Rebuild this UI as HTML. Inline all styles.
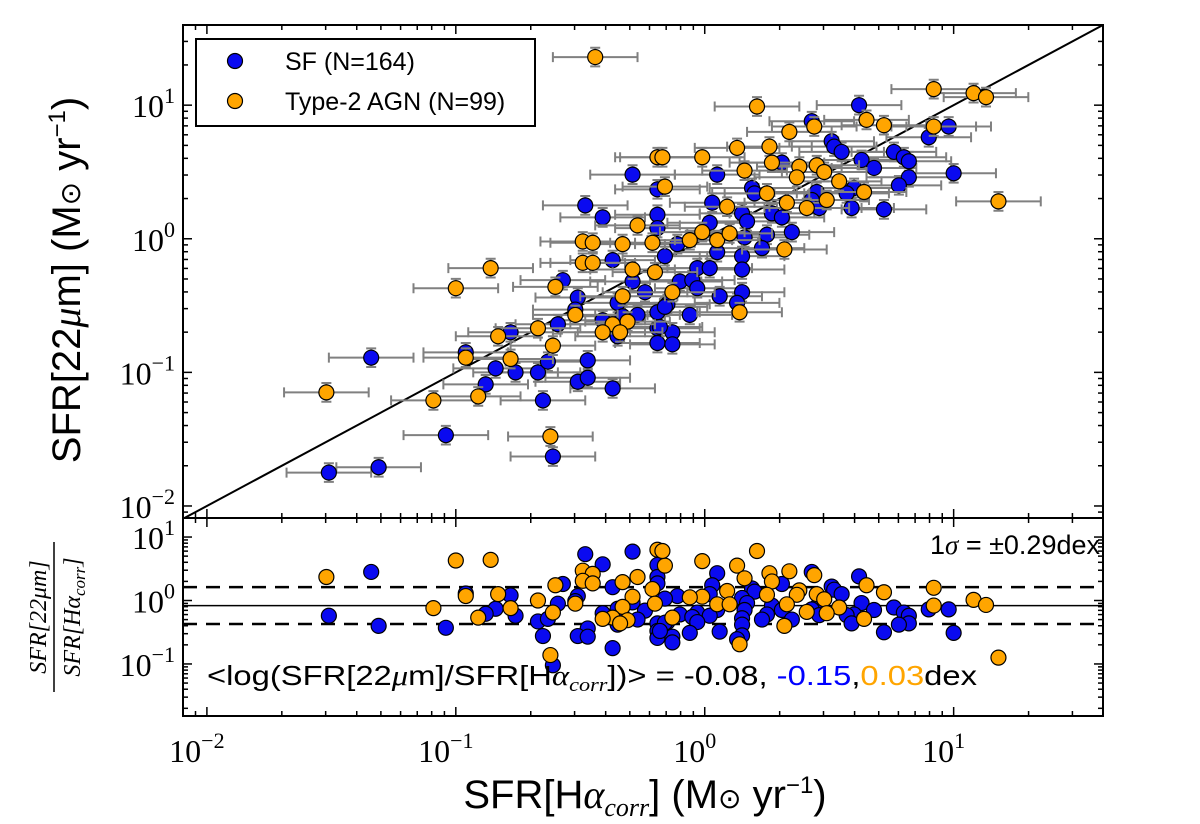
<!DOCTYPE html>
<html><head><meta charset="utf-8"><style>
html,body{margin:0;padding:0;background:#fff;}
svg{display:block;}
</style></head><body>
<svg id="chart" width="1200" height="824" viewBox="0 0 1200 824" xmlns="http://www.w3.org/2000/svg" font-family="Liberation Sans, sans-serif">
<g id="main"></g>
<g id="resid"></g>
<g id="labels">
<text transform="translate(80,280) rotate(-90)" text-anchor="middle" font-size="40">SFR[22<tspan font-family="Liberation Serif" font-style="italic">μ</tspan>m]  (M<tspan font-size="28">⊙</tspan> yr<tspan font-size="24" dy="-15">−1</tspan><tspan dy="15">)</tspan></text>
<text x="645" y="808" text-anchor="middle" font-size="40">SFR[H<tspan font-family="Liberation Serif" font-style="italic">α</tspan><tspan font-family="Liberation Serif" font-style="italic" font-size="26" dy="8">corr</tspan><tspan dy="-8">]  (M</tspan><tspan font-size="28">⊙</tspan> yr<tspan font-size="24" dy="-15">−1</tspan><tspan dy="15">)</tspan></text>
<g transform="translate(0,617) rotate(-90)" font-family="Liberation Serif" font-style="italic" font-size="24" text-anchor="middle">
<text x="0" y="46">SFR[22μm]</text>
<line x1="-75" y1="54" x2="75" y2="54" stroke="#000" stroke-width="1.5"/>
<text x="0" y="80">SFR[Hα<tspan font-size="17" dy="5">corr</tspan><tspan dy="-5">]</tspan></text>
</g>
</g>
</svg>
<script>
// ---------- data (log10 SFR, Msun/yr) ----------
const sfLogX = [-0.29,-0.19,-0.48,-0.41,-0.19,-0.19,-0.37,-0.57,-0.29,-0.24,-0.51,-0.52,-0.35,-0.33,-0.27,-0.41,-0.19,-0.15,-0.19,-0.13,-0.19,-0.13,-0.35,-0.59,-0.78,-0.96,-1.34,-0.84,-0.76,-0.88,-0.67,-0.63,-0.47,-0.51,-0.47,-0.37,-0.65,-1.04,-0.61,-1.51,-1.31,
 0.62,0.43,0.98,0.90,0.51,0.52,0.55,0.76,0.80,0.82,0.63,0.68,1.00,0.82,0.78,0.05,0.31,0.60,0.57,0.45,0.43,0.46,0.59,0.72,0.19,0.20,0.03,0.15,0.27,0.31,0.02,0.17,0.35,0.25,0.16,-0.11,0.05,0.15,0.23,-0.16,-0.03,0.02,0.15,-0.10,-0.05,-0.03,0.06,0.15,0.13,-0.16,-0.06,-0.18];
const sfLogY = [0.48,0.37,0.25,0.16,0.18,0.08,-0.16,-0.31,-0.32,-0.40,-0.44,-0.53,-0.48,-0.58,-0.57,-0.61,-0.55,-0.49,-0.67,-0.70,-0.78,-0.79,-0.73,-0.64,-0.70,-0.85,-0.89,-0.97,-1.00,-1.09,-1.00,-0.92,-0.91,-1.07,-1.04,-1.12,-1.21,-1.47,-1.63,-1.75,-1.71,
 1.00,0.88,0.84,0.76,0.73,0.69,0.65,0.65,0.61,0.58,0.59,0.53,0.49,0.46,0.40,0.48,0.57,0.38,0.34,0.35,0.29,0.23,0.23,0.22,0.38,0.34,0.27,0.19,0.19,0.16,0.12,0.13,0.05,0.03,0.01,-0.04,-0.10,-0.13,-0.07,-0.13,-0.22,-0.22,-0.23,-0.32,-0.31,-0.37,-0.43,-0.40,-0.48,-0.51,-0.57,-0.66];
const agnLogX = [-0.19,-0.16,-0.27,-0.49,-0.45,-0.33,-0.21,-0.49,-0.45,-0.86,-1.00,-0.29,-0.20,-0.60,-0.33,-0.13,-0.52,-0.37,-0.31,-0.41,-0.34,-0.67,-0.83,-0.61,-0.96,-0.78,-1.52,-1.09,-0.91,-0.62,
 -0.44,0.21,0.92,1.08,1.13,0.65,0.72,0.34,0.44,0.92,0.13,0.26,-0.01,-0.17,0.16,0.27,0.38,0.45,0.48,0.37,0.54,0.64,0.49,0.41,0.25,0.33,0.09,1.18,-0.01,-0.06,0.05,0.10,0.32,0.14];
const agnLogY = [0.61,0.39,0.10,-0.02,-0.03,-0.04,-0.03,-0.18,-0.18,-0.22,-0.37,-0.23,-0.25,-0.36,-0.43,-0.40,-0.57,-0.64,-0.62,-0.70,-0.70,-0.67,-0.73,-0.80,-0.89,-0.90,-1.15,-1.21,-1.18,-1.48,
 1.36,0.99,1.12,1.09,1.06,0.89,0.85,0.80,0.84,0.84,0.68,0.69,0.61,0.61,0.51,0.57,0.54,0.55,0.50,0.46,0.43,0.35,0.29,0.23,0.34,0.27,0.24,0.28,0.05,-0.01,-0.01,0.04,-0.08,-0.55];
const xErrDex = 0.17, yErrDex = 0.07;
const meanLog = -0.08, sigmaDex = 0.29;
const xTickExps = [-2,-1,0,1];
const yTickExps = [-2,-1,0,1];
const rTickExps = [-1,0,1];

// ---------- axes ----------
const L=183, R=1103, T=25, B=518, RB=716;
const xMin=-2.096, xMax=1.6, yMin=-2.09, yMax=1.6, rMin=-1.82, rMax=1.3;
const X = v => L + (v - xMin)/(xMax - xMin)*(R-L);
const Y = v => B - (v - yMin)/(yMax - yMin)*(B-T);
const RY = v => RB - (v - rMin)/(rMax - rMin)*(RB-B);
const NS='http://www.w3.org/2000/svg';
function mk(tag, attrs, parent){const e=document.createElementNS(NS,tag);for(const k in attrs)e.setAttribute(k,attrs[k]);parent.appendChild(e);return e;}
const main=document.getElementById('main'), resid=document.getElementById('resid');

const defs=mk('defs',{},document.getElementById('chart'));
const c1=mk('clipPath',{id:'c1'},defs); mk('rect',{x:L,y:T,width:R-L,height:B-T},c1);
const c2=mk('clipPath',{id:'c2'},defs); mk('rect',{x:L,y:B,width:R-L,height:RB-B},c2);

const one=mk('line',{x1:X(xMin),y1:Y(xMin),x2:X(xMax),y2:Y(xMax),stroke:'#000','stroke-width':2,'clip-path':'url(#c1)'},main);



const rl=mk('line',{x1:L,y1:RY(meanLog),x2:R,y2:RY(meanLog),stroke:'#000','stroke-width':1.5},resid);


[meanLog+sigmaDex, meanLog-sigmaDex].forEach(v=>{
  const d=mk('line',{x1:L,y1:RY(v),x2:R,y2:RY(v),stroke:'#000','stroke-width':2.5,'stroke-dasharray':'14,9'},resid);
  
  
});

function drawSeries(lx, ly, color, name){
  const gE=mk('g',{'clip-path':'url(#c1)'},main);
  
  
  for(let i=0;i<lx.length;i++){
    const cx=X(lx[i]), cy=Y(ly[i]);
    const x1=X(lx[i]-xErrDex), x2=X(lx[i]+xErrDex), y1=Y(ly[i]+yErrDex), y2=Y(ly[i]-yErrDex);
    mk('path',{d:`M${x1},${cy}H${x2}M${x1},${cy-5}V${cy+5}M${x2},${cy-5}V${cy+5}M${cx},${y1}V${y2}M${cx-5},${y1}H${cx+5}M${cx-5},${y2}H${cx+5}`,stroke:'#808080','stroke-width':2,fill:'none'},gE);
  }
  const gP=mk('g',{'clip-path':'url(#c1)'},main);
  
  
  const gR=mk('g',{'clip-path':'url(#c2)'},resid);
  
  
  for(let i=0;i<lx.length;i++){
    const p=mk('circle',{cx:X(lx[i]),cy:Y(ly[i]),r:7.5,fill:color,stroke:'#000','stroke-width':1.2},gP);
    
    
    const q=mk('circle',{cx:X(lx[i]),cy:RY(ly[i]-lx[i]),r:7.5,fill:color,stroke:'#000','stroke-width':1.2},gR);
    
    
  }
}
drawSeries(sfLogX, sfLogY, '#0a0af0', 'sf');
drawSeries(agnLogX, agnLogY, '#ffa500', 'agn');

[[T,B],[B,RB]].forEach(([t,b])=>{
  const f=mk('rect',{x:L,y:t,width:R-L,height:b-t,fill:'none',stroke:'#000','stroke-width':2},main);
  
  
});

const tg=mk('g',{stroke:'#000','stroke-width':1.5},main);


function logTicks(minV,maxV,fn){for(let e=Math.floor(minV);e<=Math.ceil(maxV);e++){for(let m=1;m<10;m++){const v=e+Math.log10(m);if(v>=minV&&v<=maxV)fn(v,m===1);}}}
logTicks(xMin,xMax,(v,maj)=>{const x=X(v),l=maj?9:5;
  mk('line',{x1:x,y1:T,x2:x,y2:T+l},tg);mk('line',{x1:x,y1:B,x2:x,y2:B-l},tg);
  mk('line',{x1:x,y1:B,x2:x,y2:B+l},tg);mk('line',{x1:x,y1:RB,x2:x,y2:RB-l},tg);});
logTicks(yMin,yMax,(v,maj)=>{const y=Y(v),l=maj?9:5;
  mk('line',{x1:L,y1:y,x2:L+l,y2:y},tg);mk('line',{x1:R,y1:y,x2:R-l,y2:y},tg);});
logTicks(rMin,rMax,(v,maj)=>{const y=RY(v),l=maj?9:5;
  mk('line',{x1:L,y1:y,x2:L+l,y2:y},tg);mk('line',{x1:R,y1:y,x2:R-l,y2:y},tg);});

function tickLabel(x,y,e,anchor,name){
  const t=mk('text',{x:x,y:y,'text-anchor':anchor,'font-family':'Liberation Serif, serif','font-size':32},main);
  
  
  t.textContent='10';
  const s=mk('tspan',{'font-size':22,dy:-14},t);
  s.textContent=(e<0?'−':'')+Math.abs(e);
}
xTickExps.forEach(e=>tickLabel(X(e)-10,762,e,'middle','x-tick-label'));
yTickExps.forEach(e=>tickLabel(L-8,Y(e)+12,e,'end','y-tick-label'));
rTickExps.forEach(e=>tickLabel(L-8,RY(e)+12,e,'end','ratio-tick-label'));

const lg=mk('g',{},main);


mk('rect',{x:196,y:39,width:339,height:87,fill:'#fff',stroke:'#000','stroke-width':2},lg);
[['#0a0af0','SF (N=164)',61,'legend-entry-sf'],['#ffa500','Type-2 AGN (N=99)',101,'legend-entry-agn']].forEach(([c,txt,y,n])=>{
  const g=mk('g',{},lg);
  
  
  mk('circle',{cx:235,cy:y,r:7.5,fill:c,stroke:'#000','stroke-width':1.2},g);
  const t=mk('text',{x:285,y:y+9,'font-size':25},g); t.textContent=txt;
});

const s1=mk('text',{x:1100,y:554,'text-anchor':'end','font-size':27},resid);


s1.innerHTML='1<tspan font-family="Liberation Serif" font-style="italic">σ</tspan> = ±0.29dex';
const s2=mk('text',{x:207,y:685,'font-size':28,textLength:770,lengthAdjust:'spacingAndGlyphs'},resid);


s2.innerHTML='&lt;log(SFR[22<tspan font-family="Liberation Serif" font-style="italic">μ</tspan>m]/SFR[H<tspan font-family="Liberation Serif" font-style="italic">α</tspan><tspan font-family="Liberation Serif" font-style="italic" font-size="19" dy="6">corr</tspan><tspan dy="-6">])&gt; = -0.08, </tspan><tspan fill="#0000ff">-0.15</tspan>,<tspan fill="#ffa500">0.03</tspan>dex';
</script>
</body></html>
